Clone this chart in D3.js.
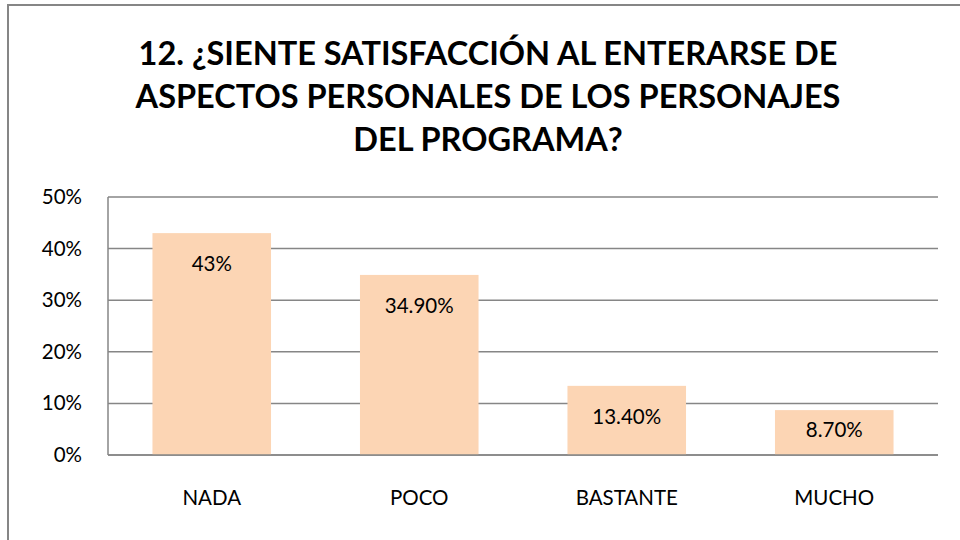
<!DOCTYPE html>
<html>
<head>
<meta charset="utf-8">
<script src="https://cdn.jsdelivr.net/npm/d3@7"></script>
<style>
  html, body { margin: 0; padding: 0; background: #fff; }
  svg { display: block; }
  text { font-family: Lato, "Open Sans", "DejaVu Sans", sans-serif; fill: #000; }
</style>
</head>
<body>
<script>
// Survey answers and their shares
const categories = ["NADA", "POCO", "BASTANTE", "MUCHO"];
const values = [0.43, 0.349, 0.134, 0.087];
const valueLabels = ["43%", "34.90%", "13.40%", "8.70%"];
const yTicks = [0, 0.1, 0.2, 0.3, 0.4, 0.5];
const titleLines = [
  "12. ¿SIENTE SATISFACCIÓN AL ENTERARSE DE",
  "ASPECTOS PERSONALES DE LOS PERSONAJES",
  "DEL PROGRAMA?"
];

const W = 960, H = 540;
const plot = { left: 108, right: 938, top: 197, bottom: 455 };

const svg = d3.select("body").append("svg")
  .attr("width", W).attr("height", H);

// chart frame
svg.append("rect")
  .attr("x", 8).attr("y", 5)
  .attr("width", W + 10).attr("height", H + 10)
  .attr("fill", "#fff").attr("stroke", "#868686").attr("stroke-width", 2);

// title
svg.append("g").selectAll("text")
  .data(titleLines)
  .join("text")
  .attr("x", 488)
  .attr("y", (d, i) => 65 + i * 43)
  .attr("text-anchor", "middle")
  .attr("font-size", 32.5)
  .attr("font-weight", "bold")
  .text(d => d);

const x = d3.scaleBand()
  .domain(categories)
  .range([plot.left, plot.right])
  .paddingInner(0.4286)
  .paddingOuter(0.2143);

const y = d3.scaleLinear()
  .domain([0, 0.5])
  .range([plot.bottom, plot.top]);

// horizontal gridlines
svg.append("g").selectAll("line")
  .data(yTicks)
  .join("line")
  .attr("x1", plot.left).attr("x2", plot.right)
  .attr("y1", d => y(d)).attr("y2", d => y(d))
  .attr("stroke", "#868686").attr("stroke-width", 1.5);

// vertical axis line
svg.append("line")
  .attr("x1", plot.left).attr("x2", plot.left)
  .attr("y1", plot.top).attr("y2", plot.bottom)
  .attr("stroke", "#868686").attr("stroke-width", 1.5);

// y-axis labels
const yAxis = d3.axisLeft(y)
  .tickValues(yTicks)
  .tickFormat(d3.format(".0%"))
  .tickSize(0)
  .tickPadding(26);
const gy = svg.append("g")
  .attr("transform", `translate(${plot.left},0)`)
  .call(yAxis);
gy.select(".domain").remove();
gy.selectAll("text")
  .attr("font-size", 20.5)
  .attr("font-family", "Lato, 'Open Sans', sans-serif")
  .attr("fill", "#000");

// bars
svg.append("g").selectAll("rect")
  .data(values)
  .join("rect")
  .attr("x", (d, i) => x(categories[i]))
  .attr("width", x.bandwidth())
  .attr("y", d => y(d))
  .attr("height", d => y(0) - y(d))
  .attr("fill", "#FCD5B4");

// baseline over the bars
svg.append("line")
  .attr("x1", plot.left).attr("x2", plot.right)
  .attr("y1", y(0)).attr("y2", y(0))
  .attr("stroke", "#868686").attr("stroke-width", 1.5);

// value labels inside bar ends, kept above the baseline on short bars
svg.append("g").selectAll("text")
  .data(values)
  .join("text")
  .attr("x", (d, i) => x(categories[i]) + x.bandwidth() / 2)
  .attr("y", d => Math.min(y(d) + 38, y(0) - 18))
  .attr("text-anchor", "middle")
  .attr("font-size", 20.5)
  .text((d, i) => valueLabels[i]);

// category labels
const xAxis = d3.axisBottom(x).tickSize(0).tickPadding(35);
const gx = svg.append("g")
  .attr("transform", `translate(0,${plot.bottom})`)
  .call(xAxis);
gx.select(".domain").remove();
gx.selectAll("text")
  .attr("font-size", 20.5)
  .attr("font-family", "Lato, 'Open Sans', sans-serif")
  .attr("fill", "#000");
</script>
</body>
</html>
